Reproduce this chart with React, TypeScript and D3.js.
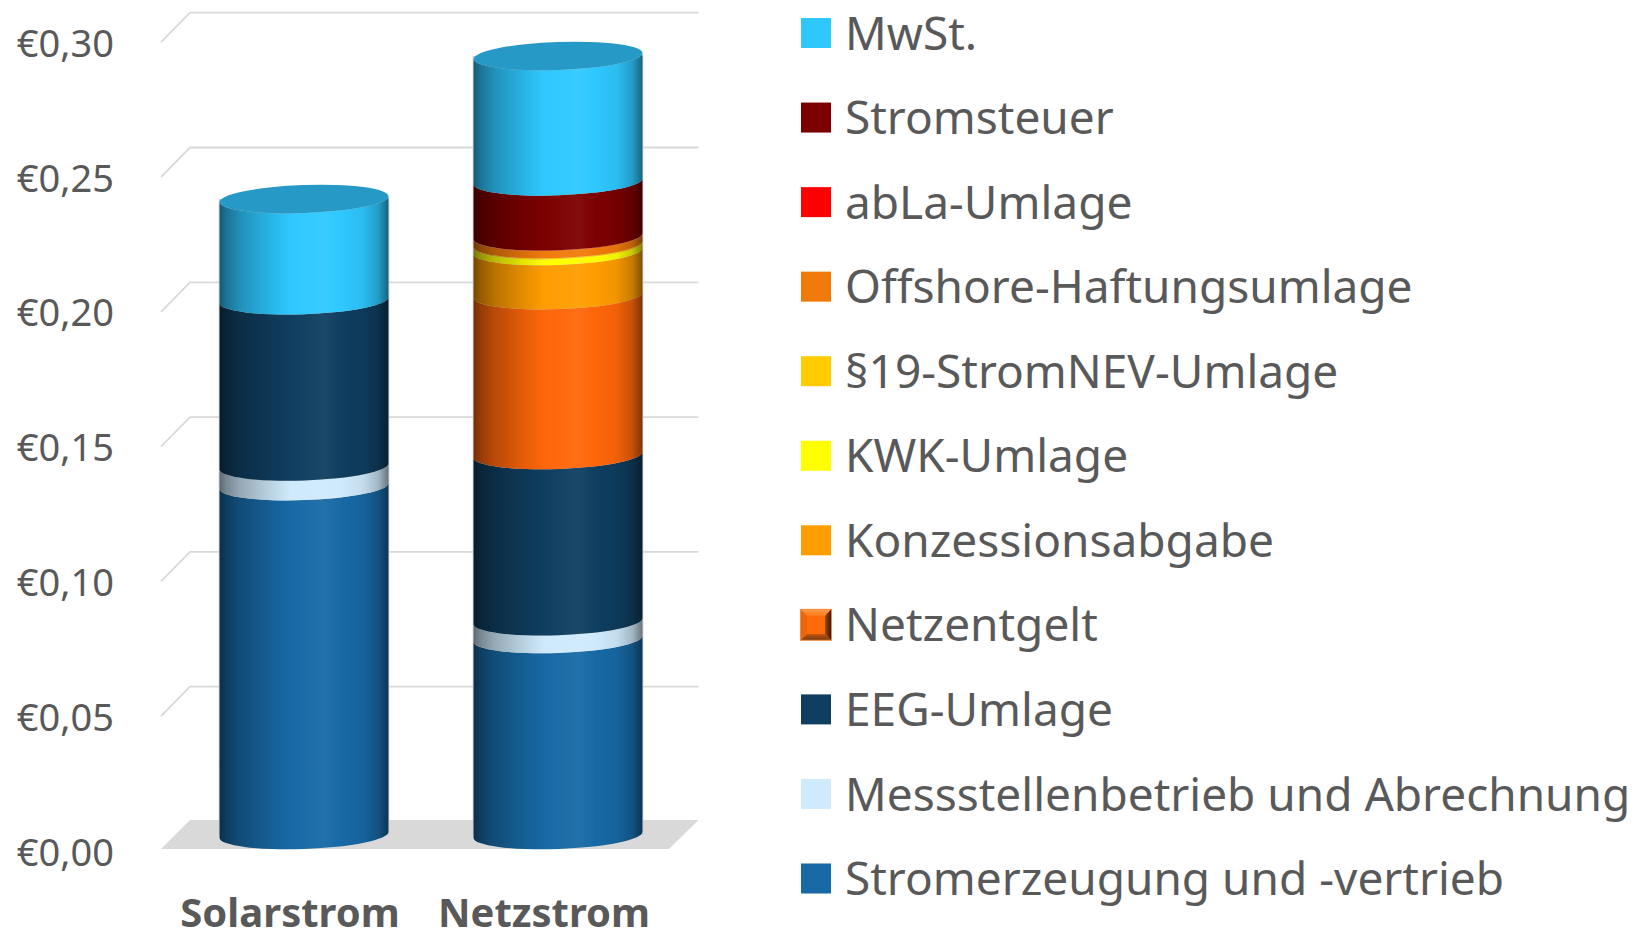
import React from "react";
import * as d3 from "d3";

const categories = ["Solarstrom", "Netzstrom"];
const seriesNames = [
  "Stromerzeugung und -vertrieb",
  "Messstellenbetrieb und Abrechnung",
  "EEG-Umlage",
  "Netzentgelt",
  "Konzessionsabgabe",
  "KWK-Umlage",
  "§19-StromNEV-Umlage",
  "Offshore-Haftungsumlage",
  "abLa-Umlage",
  "Stromsteuer",
  "MwSt.",
];
const seriesColors = ["#1769a5", "#cfeafc", "#0f3e60", "#ff660a", "#ff9d00", "#ffff00", "#ffcc00", "#f07b0b", "#ff0000", "#7c0000", "#2ec8ff"];
const solarValues = [0.1297, 0.0073, 0.0618, 0, 0, 0, 0, 0, 0, 0, 0.0376];
const netzValues = [0.0729, 0.0066, 0.0618, 0.0594, 0.0164, 0.0022, 0.0004, 0.0028, 0.0001, 0.0204, 0.0466];
const tickValues = [0, 0.05, 0.1, 0.15, 0.2, 0.25, 0.3];
const capColor = "#2699c6";

const W = 1649, H = 930;
const FONT = "'Noto Sans', sans-serif";
const TEXT = "#595959";
const y = d3.scaleLinear().domain([0, 0.05]).range([835, 700.5]);
const x = d3.scalePoint<string>().domain(categories).range([304, 558]);
const gridY = d3.scaleLinear().domain([0, 0.05]).range([851, 716.2]);
const RX = 84.5, RY = 14, TILT = 3;

const rows = categories.map((c, i) => {
  const r: Record<string, number | string> = { cat: c };
  seriesNames.forEach((s, j) => (r[s] = (i === 0 ? solarValues : netzValues)[j]));
  return r;
});
const stacked = d3.stack<any>().keys(seriesNames)(rows);

const shade = (c: string, t: number) =>
  t >= 0 ? d3.interpolateRgb(c, "#000")(t) : d3.interpolateRgb(c, "#fff")(-t);
const stops: [number, number][] = [
  [0, 0.55], [0.04, 0.42], [0.12, 0.28], [0.3, 0.1], [0.42, 0], [0.62, -0.05], [0.72, 0], [0.85, 0.06], [0.94, 0.22], [1, 0.5],
];

const DX = Math.sqrt(RX * RX - TILT * TILT);
const ROT = (-Math.asin(TILT / RX) * 180) / Math.PI;
const ARC = `${RX} ${RY} ${ROT}`;
const band = (cx: number, lo: number, hi: number) =>
  `M${cx - DX} ${lo + TILT}A${ARC} 0 0 ${cx + DX} ${lo - TILT}L${cx + DX} ${hi - TILT}A${ARC} 0 1 ${cx - DX} ${hi + TILT}Z`;
const cap = (cx: number, c: number) =>
  `M${cx - DX} ${c + TILT}A${ARC} 0 1 ${cx + DX} ${c - TILT}A${ARC} 0 1 ${cx - DX} ${c + TILT}Z`;

const LEG_X = 801, LEG_TOP = 33, LEG_STEP = 84.55, SW = 30;

export default function App() {
  const legend = [...seriesNames].reverse();
  const totals = rows.map((r) => d3.sum(seriesNames, (s) => +r[s]));
  return (
    <svg width={W} height={H} viewBox={`0 0 ${W} ${H}`} style={{ position: "absolute", left: 0, top: 0, background: "#fff" }}>
      <defs>
        {seriesNames.map((s, i) => (
          <linearGradient key={s} id={`g${i}`} x1="0" x2="1" y1="0" y2="0">
            {stops.map(([o, t]) => (
              <stop key={o} offset={o} stopColor={shade(seriesColors[i], t)} />
            ))}
          </linearGradient>
        ))}
        <linearGradient id="nzT" x1="0" x2="0" y1="0" y2="1"><stop offset="0" stopColor="#ff9a4a" /><stop offset="1" stopColor="#ff7a10" /></linearGradient>
        <linearGradient id="nzB" x1="0" x2="0" y1="0" y2="1"><stop offset="0" stopColor="#c9560c" /><stop offset="1" stopColor="#7a3a10" /></linearGradient>
        <linearGradient id="nzR" x1="0" x2="1" y1="0" y2="0"><stop offset="0" stopColor="#a04a08" /><stop offset="1" stopColor="#3a1a05" /></linearGradient>
      </defs>

      <polygon points={`161,849 190,820 698.5,820 669,849`} fill="#d9d9d9" />
      {tickValues.slice(1).map((t) => (
        <polyline key={t} points={`161,${gridY(t)} 190,${gridY(t) - 29.5} 698.5,${gridY(t) - 29.5}`} fill="none" stroke="#d9d9d9" strokeWidth={1.8} />
      ))}
      {tickValues.map((t) => (
        <text key={t} x={114} y={gridY(t) + 4.5} textAnchor="end" dominantBaseline="middle" fontFamily={FONT} fontSize={38} fill={TEXT}>
          {"€" + d3.format(".2f")(t).replace(".", ",")}
        </text>
      ))}

      {categories.map((c, j) => (
        <rect key={c} x={x(c)! - RX - 0.8} y={y(totals[j])} width={2 * RX + 1.6} height={y(0) - y(totals[j])} fill="#c9c9c9" />
      ))}
      {stacked.map((layer, i) =>
        layer.map((d, j) =>
          d[1] - d[0] > 0 ? (
            <path key={`${i}-${j}`} d={band(x(categories[j])!, y(d[0]), y(d[1]))} fill={`url(#g${i})`} />
          ) : null
        )
      )}
      {categories.map((c, j) => (
        <path key={c} d={cap(x(c)!, y(totals[j]))} fill={capColor} />
      ))}

      {categories.map((c) => (
        <text key={c} x={x(c)! - 14} y={927} textAnchor="middle" fontFamily={FONT} fontWeight={700} fontSize={40} fill={TEXT}>
          {c}
        </text>
      ))}

      {legend.map((s, i) => {
        const cy = LEG_TOP + i * LEG_STEP;
        const col = seriesColors[seriesNames.indexOf(s)];
        const x0 = LEG_X, y0 = cy - SW / 2;
        return (
          <g key={s}>
            {s === "Netzentgelt" ? (
              <g>
                <rect x={x0 - 1} y={y0 - 1} width={SW + 2} height={SW + 2} fill="#f08a3c" />
                <polygon points={`${x0},${y0} ${x0 + SW},${y0} ${x0 + 24},${y0 + 6} ${x0 + 6},${y0 + 6}`} fill="url(#nzT)" />
                <polygon points={`${x0},${y0 + SW} ${x0 + SW},${y0 + SW} ${x0 + 24},${y0 + 24} ${x0 + 6},${y0 + 24}`} fill="url(#nzB)" />
                <polygon points={`${x0},${y0} ${x0},${y0 + SW} ${x0 + 6},${y0 + 24} ${x0 + 6},${y0 + 6}`} fill="#e8660c" />
                <polygon points={`${x0 + SW},${y0} ${x0 + SW},${y0 + SW} ${x0 + 24},${y0 + 24} ${x0 + 24},${y0 + 6}`} fill="url(#nzR)" />
                <polygon points={`${x0 + 6},${y0 + 6} ${x0 + 24},${y0 + 6} ${x0 + 24},${y0 + 24} ${x0 + 6},${y0 + 24}`} fill="#ff6a0a" />
              </g>
            ) : (
              <rect x={x0} y={y0} width={SW} height={SW} fill={col} />
            )}
            <text x={845} y={cy} dy="0.36em" fontFamily={FONT} fontSize={46} fill={TEXT}>
              {s}
            </text>
          </g>
        );
      })}
    </svg>
  );
}
